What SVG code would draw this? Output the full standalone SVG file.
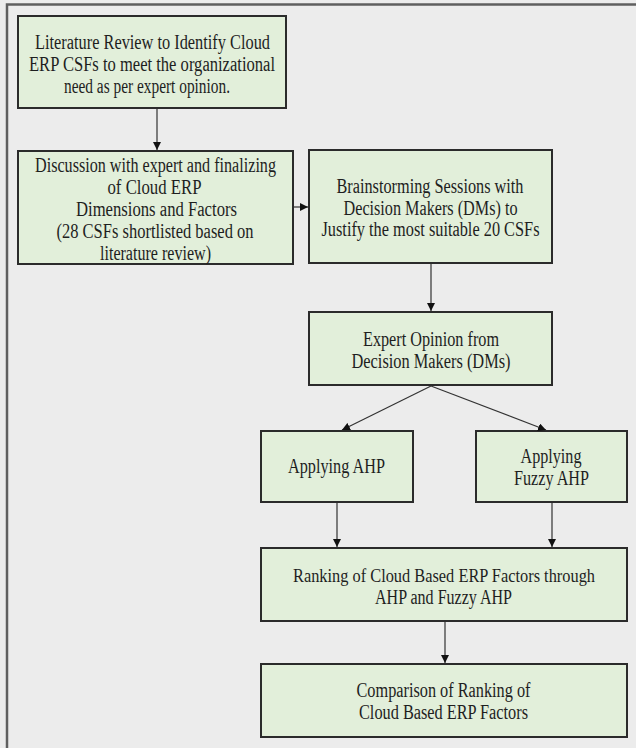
<svg xmlns="http://www.w3.org/2000/svg" width="636" height="748" viewBox="0 0 636 748">
<style>
.bg{fill:#ececec}
.frame{stroke:#5f5f5f;stroke-width:2.5;fill:none}
.box{fill:#e2efda;stroke:#2b2b2b;stroke-width:2}
.t{font-family:'Liberation Serif','DejaVu Serif',serif;font-size:20px;fill:#1e1e1e;text-anchor:middle}
.conn line{stroke:#333;stroke-width:1.2;fill:none}
</style>
<defs>
<marker id="arr" viewBox="0 0 10 10" refX="10" refY="5" markerWidth="8" markerHeight="8" markerUnits="userSpaceOnUse" orient="auto">
<path d="M0,0 L10,5 L0,10 z" fill="#111"/>
</marker>
</defs>
<rect class="bg" x="0" y="0" width="636" height="748"/>
<path class="frame" d="M7,748 V4.5 H636"/>

<g id="n1" class="t">
<rect class="box" x="18" y="16" width="268" height="92"/>
<text x="152.5" y="49" textLength="235" lengthAdjust="spacingAndGlyphs">Literature Review to Identify Cloud</text>
<text x="152" y="71" textLength="246" lengthAdjust="spacingAndGlyphs">ERP CSFs  to meet the organizational</text>
<text x="147" y="93" textLength="166" lengthAdjust="spacingAndGlyphs">need as per expert opinion.</text>
</g>

<g id="n2" class="t">
<rect class="box" x="18" y="151" width="275" height="113"/>
<text x="155.5" y="172" textLength="241" lengthAdjust="spacingAndGlyphs">Discussion with expert and finalizing</text>
<text x="154.5" y="194" textLength="94" lengthAdjust="spacingAndGlyphs">of  Cloud ERP</text>
<text x="156.5" y="216" textLength="161" lengthAdjust="spacingAndGlyphs">Dimensions and Factors</text>
<text x="155" y="238" textLength="197" lengthAdjust="spacingAndGlyphs">(28 CSFs shortlisted based on</text>
<text x="155.5" y="260" textLength="111" lengthAdjust="spacingAndGlyphs">literature review)</text>
</g>

<g id="n3" class="t">
<rect class="box" x="309" y="150" width="243" height="113"/>
<text x="430" y="193" textLength="187" lengthAdjust="spacingAndGlyphs">Brainstorming Sessions with</text>
<text x="430.5" y="215" textLength="174" lengthAdjust="spacingAndGlyphs">Decision Makers (DMs) to</text>
<text x="430.5" y="236" textLength="218" lengthAdjust="spacingAndGlyphs">Justify the most suitable 20 CSFs</text>
</g>

<g id="n4" class="t">
<rect class="box" x="309" y="312" width="243" height="73"/>
<text x="431" y="346" textLength="136" lengthAdjust="spacingAndGlyphs">Expert Opinion from</text>
<text x="431" y="368" textLength="159" lengthAdjust="spacingAndGlyphs">Decision Makers (DMs)</text>
</g>

<g id="n5" class="t">
<rect class="box" x="261" y="431" width="152" height="71"/>
<text x="336.5" y="473" textLength="97" lengthAdjust="spacingAndGlyphs">Applying AHP</text>
</g>

<g id="n6" class="t">
<rect class="box" x="476" y="431" width="151" height="71"/>
<text x="551" y="463" textLength="61" lengthAdjust="spacingAndGlyphs">Applying</text>
<text x="551.5" y="485" textLength="75" lengthAdjust="spacingAndGlyphs">Fuzzy AHP</text>
</g>

<g id="n7" class="t">
<rect class="box" x="261" y="548" width="366" height="73"/>
<text x="444" y="582" font-size="18.5" textLength="302" lengthAdjust="spacingAndGlyphs">Ranking of Cloud Based ERP Factors through</text>
<text x="443.5" y="604" textLength="137" lengthAdjust="spacingAndGlyphs">AHP and Fuzzy AHP</text>
</g>

<g id="n8" class="t">
<rect class="box" x="261" y="664" width="366" height="73"/>
<text x="443.5" y="697" textLength="174" lengthAdjust="spacingAndGlyphs">Comparison of Ranking of</text>
<text x="443.5" y="719" textLength="169" lengthAdjust="spacingAndGlyphs">Cloud Based ERP Factors</text>
</g>

<g id="connectors" class="conn">
<line x1="157" y1="109" x2="157" y2="150" marker-end="url(#arr)"/>
<line x1="294" y1="207" x2="308" y2="207" marker-end="url(#arr)"/>
<line x1="431" y1="264" x2="431" y2="311" marker-end="url(#arr)"/>
<line x1="431" y1="386" x2="342" y2="430" marker-end="url(#arr)"/>
<line x1="431" y1="386" x2="546" y2="430" marker-end="url(#arr)"/>
<line x1="337" y1="503" x2="337" y2="547" marker-end="url(#arr)"/>
<line x1="552" y1="503" x2="552" y2="547" marker-end="url(#arr)"/>
<line x1="445" y1="622" x2="445" y2="663" marker-end="url(#arr)"/>
</g>
</svg>
